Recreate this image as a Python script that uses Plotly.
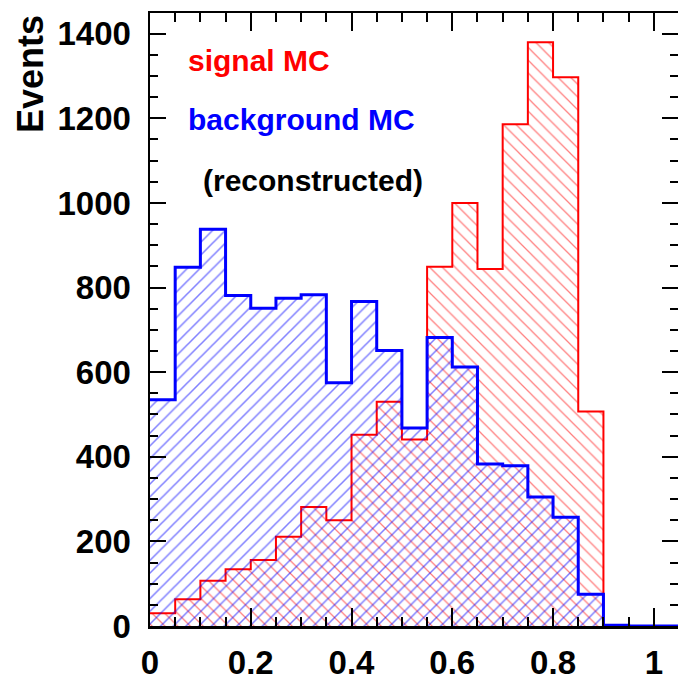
import plotly.graph_objects as go

# ---- data ----
bin_edges = [0.00, 0.05, 0.10, 0.15, 0.20, 0.25, 0.30, 0.35, 0.40, 0.45, 0.50,
             0.55, 0.60, 0.65, 0.70, 0.75, 0.80, 0.85, 0.90, 0.95, 1.00, 1.05]
signal_mc = [30, 63, 107, 134, 156, 211, 281, 250, 452, 530, 441,
             849, 1000, 844, 1186, 1380, 1297, 507, 0, 0, 0]
background_mc = [535, 848, 938, 781, 751, 775, 783, 575, 767, 651, 468,
                 682, 612, 383, 379, 305, 257, 75, 2, 0, 0]
x_tick_vals = [0, 0.2, 0.4, 0.6, 0.8, 1.0]
x_tick_text = ["0", "0.2", "0.4", "0.6", "0.8", "1"]
y_tick_vals = [0, 200, 400, 600, 800, 1000, 1200, 1400]
y_tick_text = ["0", "200", "400", "600", "800", "1000", "1200", "1400"]

W, H = 678, 684
ML, MR, MT, MB = 150, 0, 13, 58
FONT = "Liberation Sans, Arial, Helvetica, sans-serif"

def px_to_paper(px, py):
    return (px - ML) / (W - ML - MR), 1 - (py - MT) / (H - MT - MB)

def step(values):
    return bin_edges, values + [values[-1]]

fig = go.Figure()

sx, sy = step(signal_mc)
fig.add_trace(go.Scatter(
    x=sx, y=sy, mode="lines", line=dict(color="#ff0000", width=2, shape="hv"),
    fill="tozeroy", fillcolor="rgba(0,0,0,0)",
    fillpattern=dict(shape="\\", fgcolor="#ff0000", bgcolor="rgba(0,0,0,0)",
                     size=9, solidity=0.14),
    hoverinfo="skip", showlegend=False))

bx, by = step(background_mc)
fig.add_trace(go.Scatter(
    x=bx, y=by, mode="lines", line=dict(color="#0000ff", width=3, shape="hv"),
    fill="tozeroy", fillcolor="rgba(0,0,0,0)",
    fillpattern=dict(shape="/", fgcolor="#0000ff", bgcolor="rgba(0,0,0,0)",
                     size=9, solidity=0.17),
    hoverinfo="skip", showlegend=False, yaxis="y2"))

tickfont = dict(family=FONT, size=33, color="black", weight="bold")

fig.update_layout(
    width=W, height=H,
    margin=dict(l=ML, r=MR, t=MT, b=MB, pad=0),
    paper_bgcolor="white", plot_bgcolor="white",
    showlegend=False,
    xaxis=dict(range=[0, 1.048], tickvals=x_tick_vals, ticktext=x_tick_text,
               ticks="inside", ticklen=18, tickwidth=2, tickcolor="black",
               minor=dict(dtick=0.05, tick0=0, ticks="inside", ticklen=9,
                          tickwidth=2, tickcolor="black"),
               showline=True, linewidth=2.5, linecolor="black", mirror="ticks",
               showgrid=False, zeroline=False, tickfont=tickfont,
               ticklabelstandoff=6),
    yaxis=dict(range=[0, 1449], tickvals=y_tick_vals, ticktext=y_tick_text,
               ticks="inside", ticklen=16, tickwidth=2, tickcolor="black",
               minor=dict(dtick=50, tick0=0, ticks="inside", ticklen=8,
                          tickwidth=2, tickcolor="black"),
               showline=True, linewidth=2.5, linecolor="black", mirror=False,
               showgrid=False, zeroline=False, tickfont=tickfont,
               ticklabelstandoff=10),
    yaxis2=dict(range=[0, 1449], overlaying="y", side="right",
                tickvals=y_tick_vals, showticklabels=False,
                ticks="inside", ticklen=16, tickwidth=2, tickcolor="black",
                minor=dict(dtick=50, tick0=0, ticks="inside", ticklen=8,
                           tickwidth=2, tickcolor="black"),
                showline=False, showgrid=False, zeroline=False),
)

annots = [
    ("signal MC", "#ff0000", 186, 61),
    ("background MC", "#0000ff", 186, 120),
    ("(reconstructed)", "black", 201, 180),
]
for text, color, px, py in annots:
    ax_, ay_ = px_to_paper(px, py)
    fig.add_annotation(text=text, xref="paper", yref="paper", x=ax_, y=ay_,
                       xanchor="left", yanchor="middle", showarrow=False,
                       font=dict(family=FONT, size=30, color=color, weight="bold"))

ex, ey = px_to_paper(30, 13)
fig.add_annotation(text="Events", xref="paper", yref="paper", x=ex, y=ey,
                   xanchor="center", yanchor="top", textangle=-90, showarrow=False,
                   font=dict(family=FONT, size=36, color="black", weight="bold"))

fig.write_html(
    "out.html",
    config={"displayModeBar": False, "staticPlot": True},
    post_script="document.body.style.margin='0';document.body.style.padding='0';"
                "document.body.style.overflow='hidden';",
)
